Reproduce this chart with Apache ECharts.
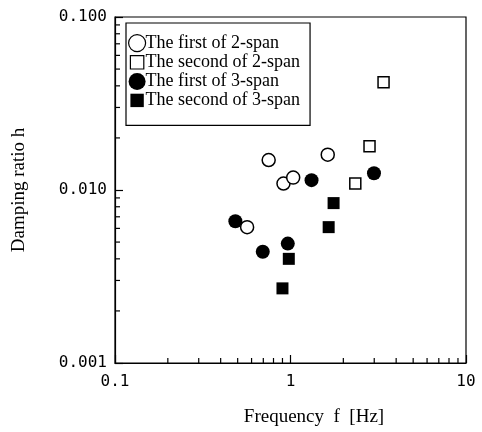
<!DOCTYPE html>
<html>
<head>
<meta charset="utf-8">
<script src="https://cdn.jsdelivr.net/npm/echarts@6/dist/echarts.min.js"></script>
<style>html,body{margin:0;padding:0;background:#fff;}#c{width:482px;height:432px;}</style>
</head>
<body>
<div id="c"></div>
<script>
// Data (frequency Hz, damping ratio)
const first2span = [[0.751, 0.0149], [1.63, 0.0160], [0.912, 0.0109], [1.036, 0.0118], [0.566, 0.0061]];
const second2span = [[3.39, 0.0419], [2.82, 0.0179], [2.34, 0.0109]];
const first3span = [[1.318, 0.0114], [2.99, 0.0125], [0.485, 0.0066], [0.695, 0.0044], [0.965, 0.0049]];
const second3span = [[1.76, 0.0084], [1.65, 0.0061], [0.978, 0.0040], [0.90, 0.0027]];
const seriesNames = ['The first of 2-span', 'The second of 2-span', 'The first of 3-span', 'The second of 3-span'];
const xMinorTicks = [0.2,0.3,0.4,0.5,0.6,0.7,0.8,0.9,2,3,4,5,6,7,8,9];
const yMinorTicks = [0.002,0.003,0.004,0.005,0.006,0.007,0.008,0.009,0.02,0.03,0.04,0.05,0.06,0.07,0.08,0.09];
const xLabels = {0.1: '0.1', 1: '1', 10: '10'};
const yLabels = {0.001: '0.001', 0.01: '0.010', 0.1: '0.100'};

const chart = echarts.init(document.getElementById('c'), null, {renderer: 'canvas'});
const serif = 'Liberation Serif';
const mono = 'DejaVu Sans Mono';
const squareIcon = 'path://M0,0M17,17M1.8,1.8H15.2V15.2H1.8Z';

function tickSeries(vals, axis) {
  return {
    type: 'custom',
    silent: true,
    data: vals.map(v => [v]),
    renderItem: function (params, api) {
      const v = api.value(0);
      let p, shape;
      if (axis === 'x') {
        p = api.coord([v, 0.001]);
        shape = {x1: p[0], y1: p[1], x2: p[0], y2: p[1] - 5};
      } else {
        p = api.coord([0.1, v]);
        shape = {x1: p[0], y1: p[1], x2: p[0] + 5, y2: p[1]};
      }
      return {type: 'line', shape: shape, style: {stroke: '#000', lineWidth: 1.2}};
    },
    z: 1
  };
}

const option = {
  animation: false,
  backgroundColor: '#fff',
  grid: {left: 115, top: 17, right: 16, bottom: 67, show: true, borderColor: '#000', borderWidth: 1.2},
  xAxis: {
    type: 'log', logBase: 10, min: 0.1, max: 10,
    name: 'Frequency  f  [Hz]', nameLocation: 'middle', nameGap: 45,
    nameTextStyle: {fontFamily: serif, fontSize: 19, color: '#000', padding: [0, 0, 0, 47]},
    axisLine: {lineStyle: {color: '#000', width: 1.2}},
    axisTick: {inside: true, length: 8, lineStyle: {color: '#000', width: 1.2}},
    axisLabel: {fontFamily: mono, fontSize: 16, color: '#000', margin: 11,
      formatter: v => xLabels[+v.toPrecision(3)] || ''},
    splitLine: {show: false}
  },
  yAxis: {
    type: 'log', logBase: 10, min: 0.001, max: 0.1,
    name: 'Damping ratio h', nameLocation: 'middle', nameGap: 86, nameRotate: 90,
    nameTextStyle: {fontFamily: serif, fontSize: 19, color: '#000'},
    axisLine: {lineStyle: {color: '#000', width: 1.2}},
    axisTick: {inside: true, length: 8, lineStyle: {color: '#000', width: 1.2}},
    axisLabel: {fontFamily: mono, fontSize: 16, color: '#000', margin: 8,
      formatter: v => yLabels[+v.toPrecision(3)] || ''},
    splitLine: {show: false}
  },
  legend: {
    orient: 'vertical', left: 126, top: 23,
    backgroundColor: '#fff', borderColor: '#000', borderWidth: 1.2,
    padding: [11, 10, 16, 2], itemGap: 1, itemWidth: 17, itemHeight: 17,
    textStyle: {fontFamily: serif, fontSize: 18, lineHeight: 18, color: '#000', padding: [0, 0, 0, -5]},
    data: [
      {name: seriesNames[0], icon: 'circle', itemStyle: {color: '#fff', borderColor: '#000', borderWidth: 1.2}},
      {name: seriesNames[1], icon: squareIcon, itemStyle: {color: '#fff', borderColor: '#000', borderWidth: 1.2}},
      {name: seriesNames[2], icon: 'circle', itemStyle: {color: '#000'}},
      {name: seriesNames[3], icon: squareIcon, itemStyle: {color: '#000'}}
    ]
  },
  series: [
    {name: seriesNames[0], type: 'scatter', data: first2span, symbol: 'circle', symbolSize: 13,
      itemStyle: {color: '#fff', borderColor: '#000', borderWidth: 1.5, opacity: 1}, z: 3},
    {name: seriesNames[1], type: 'scatter', data: second2span, symbol: 'rect', symbolSize: 11,
      itemStyle: {color: '#fff', borderColor: '#000', borderWidth: 1.5, opacity: 1}, z: 3},
    {name: seriesNames[2], type: 'scatter', data: first3span, symbol: 'circle', symbolSize: 14,
      itemStyle: {color: '#000', opacity: 1}, z: 4},
    {name: seriesNames[3], type: 'scatter', data: second3span, symbol: 'rect', symbolSize: 12,
      itemStyle: {color: '#000', opacity: 1}, z: 4},
    tickSeries(xMinorTicks, 'x'),
    tickSeries(yMinorTicks, 'y')
  ]
};
chart.setOption(option);
</script>
</body>
</html>
